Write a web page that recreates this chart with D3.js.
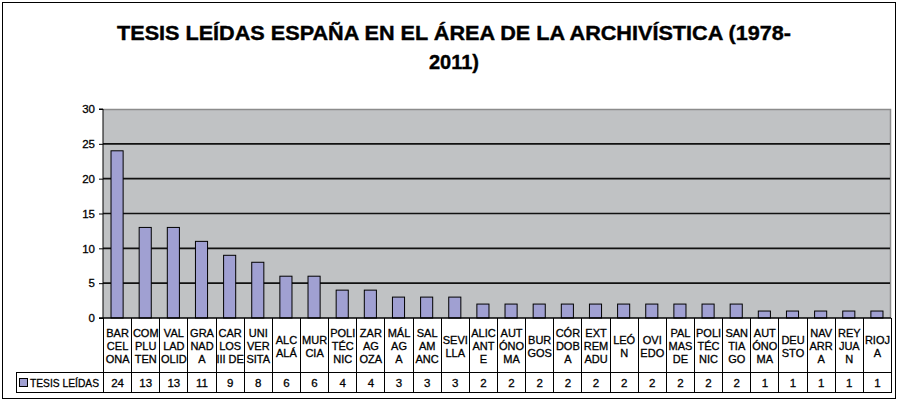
<!DOCTYPE html>
<html>
<head>
    <meta charset="utf-8">
    <title>Tesis leídas</title>
</head>
<body style="margin:0;background:#fff;">
<style type="text/css">
    #renderer { display:block; width:899px; height:402px; background:#fff; }
    text { font-family: "Liberation Sans", Arial, sans-serif; }
    .ink { stroke: #000; stroke-width: 0.3px; }
</style>
<script type="text/javascript" src="https://cdnjs.cloudflare.com/ajax/libs/d3/7.8.5/d3.min.js"></script>
<svg id="renderer" width="899" height="402"></svg>

<script type="text/javascript">
    // 1. data
    var categories = [
        "BAR\nCEL\nONA", "COM\nPLU\nTEN", "VAL\nLAD\nOLID", "GRA\nNAD\nA", "CAR\nLOS\nIII DE",
        "UNI\nVER\nSITA", "ALC\nALÁ", "MUR\nCIA", "POLI\nTÉC\nNIC", "ZAR\nAG\nOZA",
        "MÁL\nAG\nA", "SAL\nAM\nANC", "SEVI\nLLA", "ALIC\nANT\nE", "AUT\nÓNO\nMA",
        "BUR\nGOS", "CÓR\nDOB\nA", "EXT\nREM\nADU", "LEÓ\nN", "OVI\nEDO",
        "PAL\nMAS\nDE", "POLI\nTÉC\nNIC", "SAN\nTIA\nGO", "AUT\nÓNO\nMA", "DEU\nSTO",
        "NAV\nARR\nA", "REY\nJUA\nN", "RIOJ\nA"
    ];
    var values = [24, 13, 13, 11, 9, 8, 6, 6, 4, 4, 3, 3, 3, 2, 2, 2, 2, 2, 2, 2, 2, 2, 2, 1, 1, 1, 1, 1];
    var yTicks = [0, 5, 10, 15, 20, 25, 30];
    var seriesName = "TESIS LEÍDAS";
    var titleLines = ["TESIS LEÍDAS ESPAÑA EN EL ÁREA DE LA ARCHIVÍSTICA (1978-", "2011)"];

    // 2. layout
    var plot = { left: 103, right: 891, top: 109, bottom: 318 };
    var catRowBottom = 372, valRowBottom = 392, legendLeft = 16;
    var barFill = '#a0a0d2';

    var root = d3.select('#renderer');

    // outer border
    root.append('rect')
        .attr('x', 2.5).attr('y', 2.5)
        .attr('width', 893).attr('height', 396)
        .attr('fill', '#fff').attr('stroke', '#000').attr('stroke-width', 1);

    // title
    root.selectAll('text.title').data(titleLines).enter().append('text')
        .attr('class', 'title')
        .attr('x', 454)
        .attr('y', function (d, i) { return 40 + i * 29; })
        .attr('text-anchor', 'middle')
        .attr('font-size', 20)
        .attr('font-weight', 'bold')
        .attr('fill', '#000')
        .attr('stroke', '#000').attr('stroke-width', 0.4)
        .each(function (d, i) {
            if (i === 0) d3.select(this).attr('textLength', 674).attr('lengthAdjust', 'spacingAndGlyphs');
        })
        .text(function (d) { return d; });

    var x = d3.scaleBand().domain(d3.range(categories.length)).range([plot.left, plot.right]).paddingInner(0.57).paddingOuter(0.285);
    var xCell = d3.scaleBand().domain(d3.range(categories.length)).range([plot.left, plot.right]);
    var y = d3.scaleLinear().domain([0, 30]).range([plot.bottom, plot.top]);

    // plot area
    root.append('rect')
        .attr('x', plot.left).attr('y', plot.top)
        .attr('width', plot.right - plot.left).attr('height', plot.bottom - plot.top)
        .attr('fill', '#c0c2c4');
    root.append('path')
        .attr('d', 'M' + plot.left + ',' + (plot.top + 0.5) + 'H' + (plot.right - 0.5) + 'V' + plot.bottom)
        .attr('fill', 'none').attr('stroke', '#8c8c8c').attr('stroke-width', 1.5);

    // gridlines
    root.selectAll('line.grid').data(yTicks.filter(function (t) { return t > 0 && t < 30; })).enter().append('line')
        .attr('class', 'grid')
        .attr('x1', plot.left).attr('x2', plot.right - 1)
        .attr('y1', function (d) { return y(d); }).attr('y2', function (d) { return y(d); })
        .attr('stroke', '#111').attr('stroke-width', 1.6);

    // bars
    root.selectAll('rect.bar').data(values).enter().append('rect')
        .attr('class', 'bar')
        .attr('x', function (d, i) { return x(i); })
        .attr('y', function (d) { return y(d); })
        .attr('width', x.bandwidth())
        .attr('height', function (d) { return plot.bottom - y(d); })
        .attr('fill', barFill).attr('stroke', '#000').attr('stroke-width', 1);

    // y axis
    var yAxis = root.append('g')
        .attr('transform', 'translate(' + plot.left + ',0)')
        .call(d3.axisLeft(y).tickValues(yTicks).tickSize(4).tickPadding(4));
    yAxis.select('.domain').attr('stroke', '#000').attr('d', 'M-4,' + plot.top + 'H0V' + plot.bottom);
    yAxis.selectAll('text').attr('class', 'ink').attr('font-size', 11.5).attr('fill', '#000');

    // data table
    var tbl = root.append('g').attr('stroke', '#000').attr('stroke-width', 1);
    tbl.append('line').attr('x1', plot.left - 4).attr('x2', plot.right).attr('y1', plot.bottom).attr('y2', plot.bottom).attr('stroke-width', 1.5);
    tbl.append('line').attr('x1', legendLeft).attr('x2', plot.right).attr('y1', catRowBottom + 0.5).attr('y2', catRowBottom + 0.5);
    tbl.append('line').attr('x1', legendLeft).attr('x2', plot.right).attr('y1', valRowBottom + 0.5).attr('y2', valRowBottom + 0.5);
    tbl.append('line').attr('x1', legendLeft + 0.5).attr('x2', legendLeft + 0.5).attr('y1', catRowBottom).attr('y2', valRowBottom + 1);
    tbl.selectAll('line.sep').data(d3.range(categories.length + 1)).enter().append('line')
        .attr('class', 'sep')
        .attr('x1', function (i) { return Math.round(i < categories.length ? xCell(i) : plot.right) + 0.5; })
        .attr('x2', function (i) { return Math.round(i < categories.length ? xCell(i) : plot.right) + 0.5; })
        .attr('y1', plot.bottom).attr('y2', valRowBottom + 1);

    // category labels
    var catRowMid = (plot.bottom + catRowBottom) / 2 + 1;
    root.selectAll('text.cat').data(categories).enter().append('text')
        .attr('class', 'cat ink')
        .attr('text-anchor', 'middle')
        .attr('font-size', 11)
        .attr('fill', '#000')
        .each(function (d, i) {
            var lines = d.split('\n');
            var cx = xCell(i) + xCell.bandwidth() / 2 + 0.5;
            var y0 = catRowMid - (lines.length - 1) * 6.5 + 4;
            d3.select(this).selectAll('tspan').data(lines).enter().append('tspan')
                .attr('x', cx)
                .attr('y', function (l, k) { return y0 + k * 13; })
                .text(function (l) { return l; });
        });

    // values row
    root.selectAll('text.val').data(values).enter().append('text')
        .attr('class', 'val ink')
        .attr('x', function (d, i) { return xCell(i) + xCell.bandwidth() / 2 + 0.5; })
        .attr('y', (catRowBottom + valRowBottom) / 2 + 4.5)
        .attr('text-anchor', 'middle')
        .attr('font-size', 11.5)
        .attr('fill', '#000')
        .text(function (d) { return d; });

    // legend key
    root.append('rect')
        .attr('x', 19.5).attr('y', 378.5).attr('width', 8).attr('height', 8)
        .attr('fill', barFill).attr('stroke', '#000').attr('stroke-width', 1);
    root.append('text')
        .attr('class', 'ink')
        .attr('x', 30).attr('y', (catRowBottom + valRowBottom) / 2 + 4.5)
        .attr('font-size', 11.5).attr('fill', '#000')
        .attr('textLength', 69).attr('lengthAdjust', 'spacingAndGlyphs')
        .text(seriesName);
</script>
</body>
</html>
